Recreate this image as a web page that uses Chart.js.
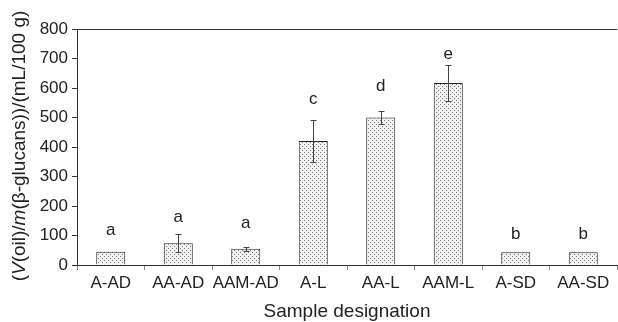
<!DOCTYPE html>
<html>
<head>
<meta charset="utf-8">
<script src="https://cdn.jsdelivr.net/npm/chart.js@4.4.0/dist/chart.umd.min.js"></script>
<style>
  html, body { margin: 0; padding: 0; background: #fff; }
  #wrap { width: 618px; height: 322px; }
</style>
</head>
<body>
<div id="wrap"><canvas id="myChart"></canvas></div>
<script>
// data
const categories = ["A-AD", "AA-AD", "AAM-AD", "A-L", "AA-L", "AAM-L", "A-SD", "AA-SD"];
const values = [45, 74, 55, 420, 500, 617, 43, 43];
const errors = [0, 31, 7, 72, 22, 61, 0, 0];
const letters = ["a", "a", "a", "c", "d", "e", "b", "b"];
const letterAt = [102, 147, 125, 546, 590, 697, 88, 88]; // baseline, in y units
const yTicks = [0, 100, 200, 300, 400, 500, 600, 700, 800];

const FONT = "'Liberation Sans', Arial, sans-serif";
const TXT = "#222";

// dotted fill like the printed figure
function makePattern() {
  const c = document.createElement("canvas");
  c.width = 4;
  c.height = 4;
  const g = c.getContext("2d");
  g.fillStyle = "#f2f2f2";
  g.fillRect(0, 0, 4, 4);
  g.fillStyle = "#777";
  g.fillRect(0, 0, 1, 1);
  g.fillRect(2, 2, 1, 1);
  return g.createPattern(c, "repeat");
}

// error bars + letters + top frame line + y title with italics
const extras = {
  id: "extras",
  afterDatasetsDraw(chart) {
    const ctx = chart.ctx;
    const y = chart.scales.y;
    const meta = chart.getDatasetMeta(0);
    ctx.save();
    ctx.strokeStyle = "#444";
    ctx.lineWidth = 1;
    meta.data.forEach((bar, i) => {
      const e = errors[i];
      const x = Math.round(bar.x) + 0.5;
      if (e > 0) {
        const yt = Math.round(y.getPixelForValue(values[i] + e)) + 0.5;
        const yb = Math.round(y.getPixelForValue(values[i] - e)) + 0.5;
        ctx.beginPath();
        ctx.moveTo(x, yt); ctx.lineTo(x, yb);
        ctx.moveTo(x - 3, yt); ctx.lineTo(x + 3, yt);
        ctx.moveTo(x - 3, yb); ctx.lineTo(x + 3, yb);
        ctx.stroke();
      }
      ctx.fillStyle = TXT;
      ctx.font = "17px " + FONT;
      ctx.textAlign = "center";
      ctx.textBaseline = "alphabetic";
      ctx.fillText(letters[i], bar.x, y.getPixelForValue(letterAt[i]));
    });

    // top line of frame
    const a = chart.chartArea;
    ctx.strokeStyle = "#333";
    ctx.beginPath();
    ctx.moveTo(a.left, Math.round(a.top) + 0.5);
    ctx.lineTo(a.right, Math.round(a.top) + 0.5);
    ctx.stroke();

    // y axis title, rotated, with italic V and m
    const parts = [
      ["(", ""], ["V", "italic "], ["(oil)/", ""], ["m", "italic "],
      ["(\u03b2-glucans))/(mL/100 g)", ""]
    ];
    let total = 0;
    parts.forEach(([t, s]) => {
      ctx.font = s + "19px " + FONT;
      total += ctx.measureText(t).width;
    });
    ctx.translate(20, (a.top + a.bottom) / 2 - 1);
    ctx.rotate(-Math.PI / 2);
    ctx.fillStyle = TXT;
    ctx.textAlign = "left";
    ctx.textBaseline = "middle";
    let px = -total / 2;
    parts.forEach(([t, s]) => {
      ctx.font = s + "19px " + FONT;
      ctx.fillText(t, px, 0);
      px += ctx.measureText(t).width;
    });
    ctx.restore();
  },
};

document.addEventListener("DOMContentLoaded", () => {
  const ctx = document.getElementById("myChart").getContext("2d");

  new Chart(ctx, {
    type: "bar",
    data: {
      labels: categories,
      datasets: [
        {
          data: values,
          backgroundColor: makePattern(),
          borderColor: "#222",
          borderWidth: 1,
          barPercentage: 0.43,
          categoryPercentage: 1,
        },
      ],
    },
    options: {
      responsive: true,
      maintainAspectRatio: false,
      animation: false,
      layout: { padding: { left: 27, top: 29, right: 1, bottom: 0 } },
      plugins: {
        legend: { display: false },
        tooltip: { enabled: false },
      },
      scales: {
        x: {
          grid: {
            display: true,
            offset: true,
            drawOnChartArea: false,
            tickLength: 5,
            color: "#888",
          },
          border: { color: "#333", width: 1 },
          ticks: {
            color: TXT,
            font: { family: FONT, size: 17 },
            padding: 3,
            maxRotation: 0,
            minRotation: 0,
            autoSkip: false,
          },
          title: {
            display: true,
            text: "Sample designation",
            color: TXT,
            font: { family: FONT, size: 19 },
            padding: { top: 0, bottom: -1 },
          },
          afterFit: (s) => { s.height = 57; },
        },
        y: {
          min: 0,
          max: 800,
          afterBuildTicks: (s) => { s.ticks = yTicks.map((v) => ({ value: v })); },
          grid: {
            display: true,
            drawOnChartArea: false,
            tickLength: 5,
            color: "#333",
          },
          border: { color: "#333", width: 1 },
          ticks: { color: TXT, font: { family: FONT, size: 17 }, padding: 4 },
          afterFit: (s) => { s.width = 50; },
        },
      },
    },
    plugins: [extras],
  });
});
</script>
</body>
</html>
